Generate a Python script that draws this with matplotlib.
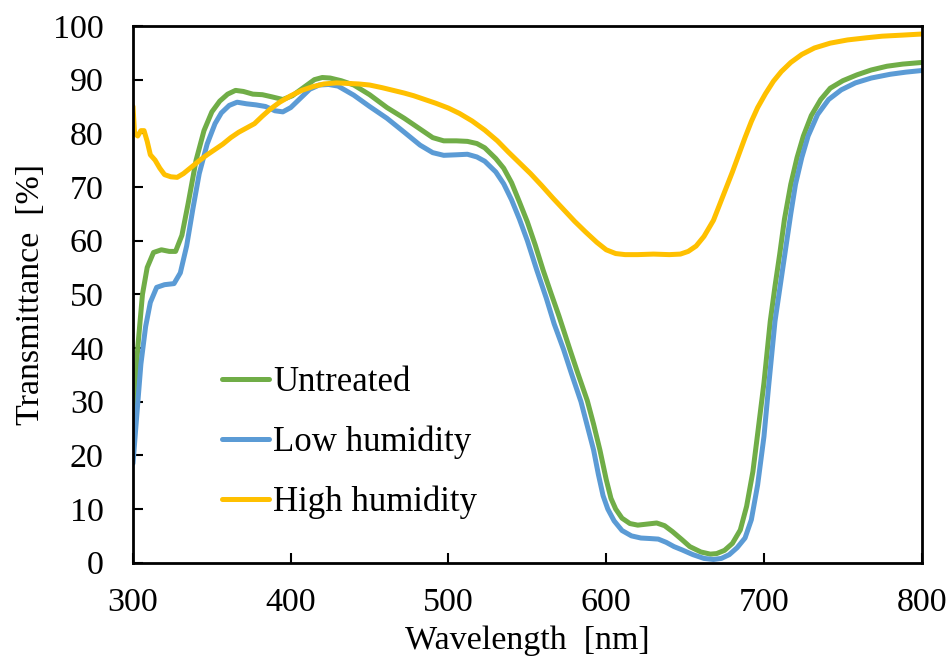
import numpy as np
import matplotlib
matplotlib.use('Agg')
import matplotlib.pyplot as plt

# transmittance spectra, wavelength [nm] -> transmittance [%]
wl_untreated = [300, 303, 306, 309, 313, 318, 323, 327, 331, 335, 340, 345, 350, 355,
                360, 365, 370, 376, 382, 388, 395, 401, 408, 415, 420, 425, 432, 440,
                450, 461, 472, 482, 490, 497, 505, 512, 518, 523, 530, 535, 540, 545,
                550, 555, 560, 565, 570, 577, 582, 588, 592, 596, 600, 603, 606, 610,
                615, 620, 626, 632, 637, 642, 648, 653, 660, 666, 670, 675, 680, 685,
                689, 693, 696, 700, 704, 707, 710, 713, 717, 721, 725, 730, 736, 742,
                750, 759, 768, 778, 788, 800]
t_untreated = [25.5, 40, 50, 55, 57.8, 58.3, 58.0, 58.0, 61, 67, 75, 80.5, 84, 86,
               87.3, 88.0, 87.8, 87.3, 87.2, 86.8, 86.3, 87.0, 88.5, 90.0, 90.4, 90.3, 89.8, 89.0,
               87.2, 84.8, 82.8, 80.8, 79.2, 78.6, 78.6, 78.5, 78.1, 77.3, 75.3, 73.5, 70.8, 67.2,
               63.5, 59.2, 54.5, 50.2, 46, 39.7, 35.3, 30.2, 25.8, 21, 15.5, 12, 10, 8.3,
               7.3, 7.0, 7.2, 7.4, 6.9, 5.8, 4.3, 3.0, 2.0, 1.6, 1.7, 2.3, 3.6, 6.1,
               10.5, 17, 24, 33.5, 45, 51.5, 57.5, 64, 70.5, 75.5, 79.5, 83.3, 86.3, 88.4,
               89.8, 90.9, 91.8, 92.5, 92.9, 93.2]

wl_low = [300, 302, 305, 308, 311, 315, 320, 326, 330, 334, 338, 342, 347, 352,
          356, 361, 366, 372, 378, 384, 390, 395, 400, 406, 412, 418, 424, 430,
          440, 450, 461, 472, 482, 490, 497, 505, 512, 518, 523, 530, 535, 540,
          545, 550, 556, 562, 567, 573, 578, 584, 588, 592, 595, 598, 601, 605,
          610, 616, 622, 628, 633, 638, 643, 648, 655, 662, 668, 673, 678, 683,
          688, 692, 696, 700, 703, 707, 710, 713.5, 717, 720, 724, 728, 734, 741,
          749, 758, 768, 780, 790, 800]
t_low = [18.5, 26, 37, 44, 48.5, 51.3, 51.8, 52, 54, 59, 66, 72.5, 78, 81.8,
         83.8, 85.2, 85.8, 85.5, 85.3, 85.0, 84.2, 84.0, 84.8, 86.5, 88.2, 89.0, 89.1, 88.8,
         87.1, 85.0, 82.8, 80.2, 77.8, 76.4, 75.9, 76.0, 76.1, 75.6, 74.8, 72.8, 70.6, 67.6,
         64, 60, 54.5, 49.3, 44.5, 39.7, 35.2, 30, 25.5, 21, 16.5, 12.5, 10, 7.8,
         6.0, 5.0, 4.6, 4.5, 4.4, 3.8, 3.0, 2.4, 1.5, 0.8, 0.6, 0.8, 1.5, 2.8,
         4.6, 8, 14.5, 23.5, 33, 45, 51, 58, 65, 70.5, 75.5, 79.5, 83.5, 86.3,
         88.1, 89.4, 90.3, 91, 91.4, 91.7]

wl_high = [300, 301, 303, 305, 307, 309, 311, 314, 317, 320, 324, 328, 332, 337,
           342, 347, 352, 357, 362, 367, 372, 377, 382, 387, 393, 400, 407, 414,
           421, 429, 436, 443, 450, 458, 465, 472, 478, 485, 492, 500, 507, 515,
           523, 531, 538, 545, 552, 559, 566, 573, 580, 587, 594, 600, 606, 612,
           620, 630, 640, 647, 652, 657, 662, 668, 672, 676, 680, 684, 688, 692,
           696, 701, 706, 711, 717, 724, 732, 742, 753, 765, 775, 788, 800]
t_high = [85, 80, 79.5, 80.5, 80.5, 78.5, 76, 75, 73.5, 72.3, 71.9, 71.8, 72.5, 73.7,
          74.9, 76.0, 77.0, 78.0, 79.2, 80.2, 81.0, 81.8, 83.2, 84.5, 85.8, 87.0, 88.0, 88.7,
          89.2, 89.4, 89.3, 89.2, 89.0, 88.5, 88.0, 87.5, 87.0, 86.3, 85.6, 84.7, 83.7, 82.3,
          80.6, 78.6, 76.5, 74.5, 72.5, 70.3, 68, 65.8, 63.6, 61.6, 59.7, 58.3, 57.6, 57.4,
          57.4, 57.5, 57.4, 57.5, 58, 59, 60.8, 63.8, 66.8, 69.8, 72.8, 76, 79.2, 82.2,
          84.8, 87.4, 89.7, 91.5, 93.2, 94.7, 95.9, 96.8, 97.4, 97.8, 98.1, 98.3, 98.5]

labels = ['Untreated', 'Low humidity', 'High humidity']
colors = ['#70AD47', '#5B9BD5', '#FFC000']

plt.rcParams['font.family'] = ['Liberation Serif', 'DejaVu Serif']
plt.rcParams['font.size'] = 24.5

fig = plt.figure(figsize=(9.5, 6.61), dpi=100)
ax = fig.add_axes([0.14, 0.1487, 0.8302, 0.812])

series = [(wl_untreated, t_untreated), (wl_low, t_low), (wl_high, t_high)]
for (w, t), lab, col in zip(series, labels, colors):
    ax.plot(w, t, color=col, lw=3.6, label=lab, solid_capstyle='round',
            solid_joinstyle='round')

ax.set_xlim(300, 800)
ax.set_ylim(0, 100)
ax.set_xticks(np.arange(300, 801, 100))
ax.set_yticks(np.arange(0, 101, 10))
ax.tick_params(direction='in', length=7, width=1.5, top=False, right=False)
ax.tick_params(axis='y', pad=21)
ax.tick_params(axis='x', pad=18)
for sp in ax.spines.values():
    sp.set_linewidth(2)

ax.set_xlabel('Wavelength  [nm]', labelpad=5)
ax.set_ylabel('Transmittance  [%]', labelpad=5)

ax.legend(loc='upper left', bbox_to_anchor=(0.113, 0.366), frameon=False,
          borderaxespad=0, borderpad=0, handlelength=1.35, handletextpad=0.12,
          labelspacing=0.76, fontsize=25)

fig.savefig('out.png', dpi=100)
